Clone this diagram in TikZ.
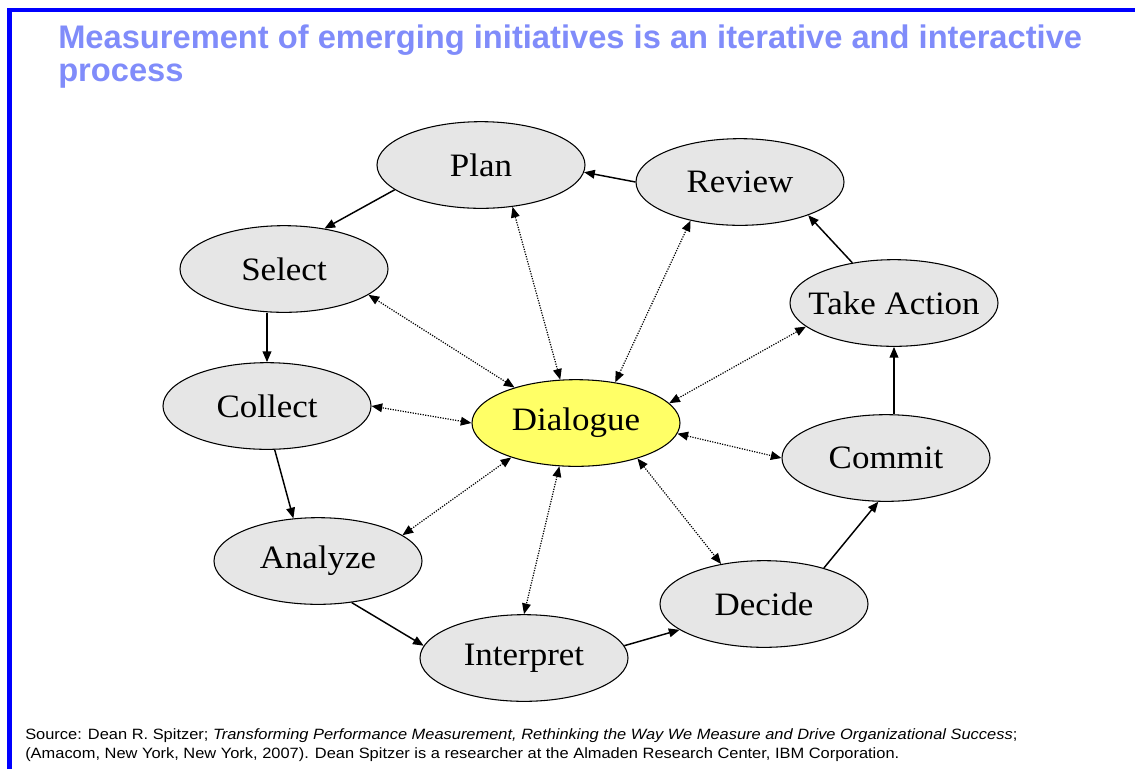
\documentclass[tikz,border=0pt]{standalone}
\usepackage{fontspec}
\setmainfont[FakeStretch=1.07]{Liberation Serif}
\newfontfamily\arial{Liberation Sans}
\newfontfamily\arialwide[FakeStretch=1.1]{Liberation Sans}
\usetikzlibrary{arrows.meta, shapes.geometric}

\definecolor{titleblue}{RGB}{128,140,250}
\definecolor{frameblue}{RGB}{0,0,255}
\definecolor{stagegray}{RGB}{230,230,230}
\definecolor{talkyellow}{RGB}{255,255,102}

\begin{document}
\begin{tikzpicture}[x=0.75pt, y=-0.75pt, >={Triangle[length=8pt, width=6.5pt]},
    stage/.style={ellipse, draw, line width=0.8pt, fill=stagegray,
      minimum width=156pt, minimum height=65pt, inner xsep=-10pt, inner ysep=0pt,
      font=\fontsize{24.5}{24.5}\selectfont},
    cycle/.style={->, line width=1.1pt},
    talk/.style={<->, densely dotted, line width=0.9pt}]
  \useasboundingbox (0,0) rectangle (1135,769);

  % slide frame and title
  \draw[frameblue, line width=3.4pt] (9.5,769) |- (1135,10);
  \node[anchor=base west, align=left, inner sep=0pt, text=titleblue,
    font=\arial\bfseries\fontsize{24.5}{24.75}\selectfont] (title) at (58,81)
    {Measurement of emerging initiatives is an iterative and interactive\\process};

  % the stages round the loop
  \node[stage] (plan) at (481,165) {Plan};
  \node[stage] (review) at (740,182) {Review};
  \node[stage] (select) at (284,269) {Select};
  \node[stage] (action) at (894,303) {Take Action};
  \node[stage] (collect) at (267,406) {Collect};
  \node[stage, fill=talkyellow] (dialogue) at (576,423) {Dialogue};
  \node[stage] (commit) at (886,458) {Commit};
  \node[stage] (analyze) at (318,561) {Analyze};
  \node[stage] (decide) at (764,604) {Decide};
  \node[stage] (interpret) at (524,658) {Interpret};

  % the loop itself
  \path[cycle]
    (plan.196) edge (select.45)
    (select.south -| collect.north) edge (collect.north)
    (collect.280) edge (analyze.120)
    (analyze.309) edge (interpret.173)
    (interpret.7) edge (decide.197)
    (decide.31) edge (commit.260)
    (action.south |- commit.north) edge (action.south)
    (action.136) edge (review.334)
    (review.west) edge (plan.356);

  % dialogue with every stage
  \path[talk]
    (dialogue.110) edge (plan.307)
    (dialogue.46) edge (review.218)
    (dialogue.150) edge (select.343)
    (dialogue.12) edge (action.195)
    (dialogue.west) edge (collect.east)
    (dialogue.354) edge (commit.west)
    (dialogue.208) edge (analyze.17)
    (dialogue.330) edge (decide.137)
    (dialogue.249) edge (interpret.90);

  \node[anchor=base west, align=left, inner sep=0pt,
    font=\arialwide\fontsize{11.2}{14.25}\selectfont] (source) at (25,758)
    {Source: Dean R. Spitzer; \textit{Transforming Performance Measurement, Rethinking the Way We Measure and Drive Organizational Success};\\
     (Amacom, New York, New York, 2007). Dean Spitzer is a researcher at the Almaden Research Center, IBM Corporation.};
\end{tikzpicture}
\end{document}
